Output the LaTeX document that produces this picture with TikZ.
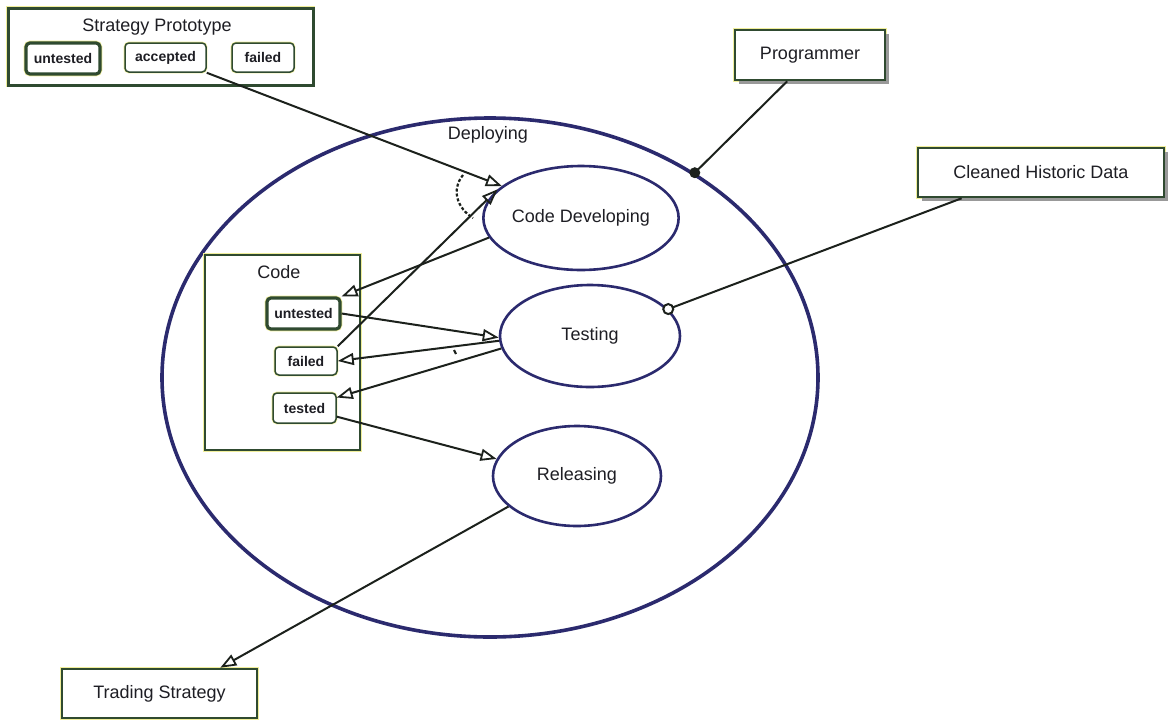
\documentclass[tikz,border=0pt]{standalone}
\usepackage{fontspec}
\setmainfont{Liberation Sans}
\usetikzlibrary{shapes.geometric,arrows.meta,shadows}

\definecolor{navy}{HTML}{2B2A6E}
\definecolor{boxgreen}{HTML}{2F4A30}
\definecolor{halo}{HTML}{F0EE9A}
\definecolor{ink}{HTML}{1E1E24}
\definecolor{wire}{HTML}{1C211C}

\begin{document}
\begin{tikzpicture}[x=1pt,y=-1pt,
  lbl/.style={font=\fontsize{18}{20}\selectfont, text=ink},
  frame/.style={draw=boxgreen, line width=2.6pt, fill=white, inner sep=0pt,
    preaction={draw=halo, line width=4pt}},
  actor/.style={frame, lbl},
  shadowed/.style={drop shadow={shadow xshift=4pt, shadow yshift=-4pt,
    fill=gray!80, opacity=1}},
  statebox/.style={draw=boxgreen, line width=1.5pt, rounded corners=4pt,
    fill=white, inner sep=0pt, text=ink,
    font=\fontsize{14}{16}\selectfont\bfseries,
    preaction={draw=halo, line width=2.8pt}},
  current/.style={line width=3.2pt, preaction={draw=halo, line width=4.6pt}},
  activity/.style={ellipse, draw=navy, line width=2.6pt, inner sep=0pt,
    fill=white, lbl},
  flow/.style={draw=wire, line width=2pt,
    -{Triangle[open, length=16pt, width=12pt, line width=1.8pt]}},
  link/.style={draw=wire, line width=2pt},
]
\useasboundingbox (0,0) rectangle (1168,721);
\fill[white] (0,0) rectangle (1168,721);

% Deploying activity with its sub-activities
\node[activity, line width=3.6pt, minimum width=656pt, minimum height=519pt]
  (deploy) at (490,377.5) {};
\node[lbl] (deploylbl) at (488,135) {Deploying};

\node[activity, minimum width=182pt, minimum height=104pt]
  (codedev) at (581,218) {Code Developing};
\node[activity, minimum width=180pt, minimum height=102pt]
  (testing) at (590,336) {Testing};
\node[activity, minimum width=168pt, minimum height=100pt]
  (releasing) at (577,476) {Releasing};

% Code object with its states
\node[frame, minimum width=155pt, minimum height=195pt] (code) at (282.5,352.5) {};
\node[lbl] (codelbl) at (279,272) {Code};
\node[statebox, current, minimum width=73pt, minimum height=31pt]
  (cunt) at (303.5,313.5) {untested};
\node[statebox, minimum width=62pt, minimum height=28pt]
  (cfail) at (306,361) {failed};
\node[statebox, minimum width=63pt, minimum height=30pt]
  (ctest) at (304.5,408) {tested};

% Strategy Prototype object with its states
\node[frame, line width=3pt, minimum width=305pt, minimum height=77pt]
  (proto) at (160.5,46.5) {};
\node[lbl] (protolbl) at (157,27) {Strategy Prototype};
\node[statebox, current, minimum width=74pt, minimum height=31pt]
  (punt) at (63,58.5) {untested};
\node[statebox, minimum width=81pt, minimum height=29pt]
  (acc) at (165.5,57.5) {accepted};
\node[statebox, minimum width=62pt, minimum height=29pt]
  (pfail) at (263,57.5) {failed};

% Outside participants
\node[actor, shadowed, minimum width=150pt, minimum height=50pt]
  (prog) at (810,55) {Programmer};
\node[actor, shadowed, minimum width=246pt, minimum height=49pt]
  (chd) at (1041,172.5) {Cleaned Historic Data};
\node[actor, minimum width=195pt, minimum height=49pt]
  (trading) at (159.5,693.5) {Trading Strategy};

% Object flows
\draw[flow] (acc.south east) -- (codedev.158);
\draw[flow] (cfail.north east) -- (codedev.161);
\draw[flow] (codedev.192) -- (cunt.north east);
\draw[flow] (cunt.east) -- (testing.181);
\draw[flow] (testing.183) -- (cfail.east);
\draw[flow] (testing.188) -- (ctest.18);
\draw[flow] (ctest.-15) -- (releasing.168);
\draw[flow] (releasing.204) -- (trading.23);

% Join of the two inputs of Code Developing
\draw[wire, line width=2.2pt, dash pattern=on 3pt off 2pt]
  (463,175) .. controls (451,190) and (457,208) .. (473,218);
\draw[wire, line width=2.2pt] (454,350) -- (456,354);

% Participant links
\draw[link] (deploy.45) -- (prog.-131);
\fill[wire] (deploy.45) circle (5.5pt);
\draw[link] (testing.19) -- (chd.-162.6);
\draw[link, fill=white] (testing.19) circle (5pt);
\end{tikzpicture}
\end{document}
